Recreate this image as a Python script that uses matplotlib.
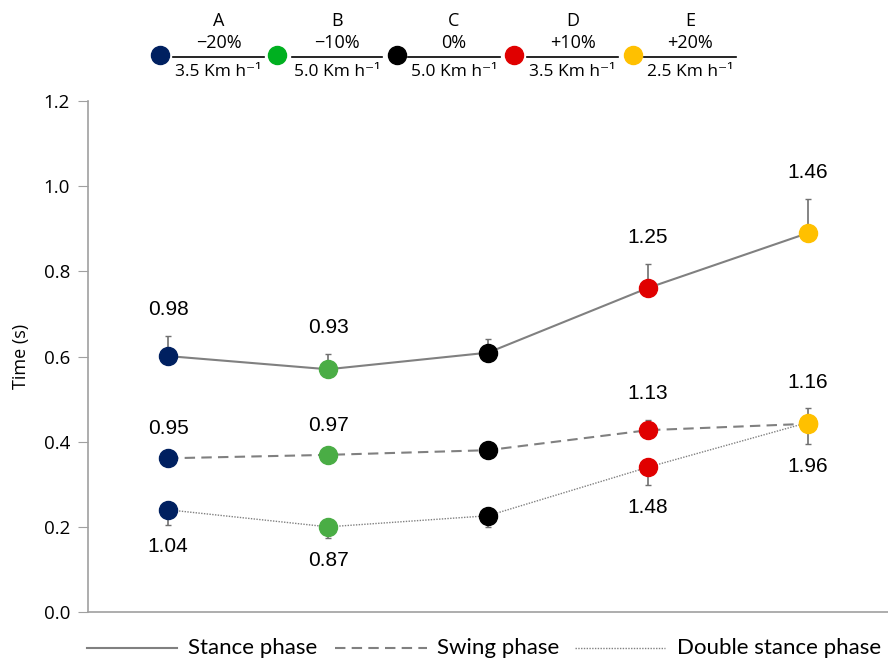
import matplotlib.pyplot as plt
from matplotlib.lines import Line2D
import numpy as np

# conditions A-E (slope / speed)
groups = ["A", "B", "C", "D", "E"]
slopes = ["\u221220%", "\u221210%", "0%", "+10%", "+20%"]
speeds = ["3.5 Km h\u207b\u00b9", "5.0 Km h\u207b\u00b9", "5.0 Km h\u207b\u00b9",
          "3.5 Km h\u207b\u00b9", "2.5 Km h\u207b\u00b9"]
colors = ["#002060", "#4aad45", "#000000", "#e00000", "#ffc000"]
header_colors = ["#002060", "#00b020", "#000000", "#e00000", "#ffc000"]

# mean times (s) and SD
stance = [0.601, 0.570, 0.609, 0.761, 0.890]
stance_sd = [0.048, 0.037, 0.032, 0.056, 0.080]
swing = [0.361, 0.369, 0.380, 0.427, 0.442]
swing_sd = [0.008, 0.008, 0.006, 0.025, 0.036]
double = [0.240, 0.200, 0.226, 0.340, 0.445]
double_sd = [0.035, 0.027, 0.026, 0.042, 0.050]

# ratio labels (C has none)
stance_lab = ["0.98", "0.93", "", "1.25", "1.46"]
swing_lab = ["0.95", "0.97", "", "1.13", "1.16"]
double_lab = ["1.04", "0.87", "", "1.48", "1.96"]

fig = plt.figure(figsize=(8.88, 6.61), dpi=100)
ax = fig.add_axes([88 / 888, 49 / 661, 800 / 888, 511 / 661])

x = np.arange(1, 6)
grey = "#808080"

series = [
    (stance, stance_sd, "-", 1.5, stance_lab, "up"),
    (swing, swing_sd, (0, (5, 3)), 1.5, swing_lab, "up"),
    (double, double_sd, (0, (1, 1)), 1.0, double_lab, "down"),
]

for vals, sd, ls, lw, labs, side in series:
    vals = np.array(vals)
    sd = np.array(sd)
    ax.plot(x, vals, color=grey, linestyle=ls, linewidth=lw, zorder=2)
    if side == "up":
        yerr = [np.zeros_like(sd), sd]
    else:
        yerr = [sd, np.zeros_like(sd)]
    ax.errorbar(x, vals, yerr=yerr, fmt="none", ecolor="#707070",
                elinewidth=1.2, capsize=2.5, capthick=1, zorder=1)
    for i in range(5):
        ax.plot(x[i], vals[i], "o", color=colors[i], markersize=13, zorder=3)
        if labs[i]:
            if side == "up":
                ax.annotate(labs[i], (x[i], vals[i] + sd[i]), xytext=(0, 19),
                            textcoords="offset points", ha="center", va="center",
                            fontsize=15, family="Liberation Sans")
            else:
                ax.annotate(labs[i], (x[i], vals[i] - sd[i]), xytext=(0, -16),
                            textcoords="offset points", ha="center", va="center",
                            fontsize=15, family="Liberation Sans")

ax.set_xlim(0.5, 5.5)
ax.set_ylim(0, 1.2)
ax.set_yticks(np.arange(0, 1.21, 0.2))
ax.set_yticklabels([f"{v:.1f}" for v in np.arange(0, 1.21, 0.2)],
                   fontsize=13.5, family="Open Sans")
ax.set_xticks([])
ax.set_ylabel("Time (s)", fontsize=13, family="Open Sans", labelpad=10)
ax.tick_params(axis="y", direction="out", length=7, color="#a0a0a0", pad=6)
for s in ["top", "right"]:
    ax.spines[s].set_visible(False)
for s in ["left", "bottom"]:
    ax.spines[s].set_color("#a0a0a0")
    ax.spines[s].set_linewidth(1.2)

# header: condition markers with slope/speed fractions
W, H = 888, 661
dot_x = [160, 277, 397, 514, 633]
frac = [(173, 264), (292, 382), (408, 500), (527, 618), (644, 736)]
for i in range(5):
    fig.add_artist(Line2D([dot_x[i] / W], [1 - 55 / H], marker="o",
                          color=header_colors[i], markersize=13,
                          transform=fig.transFigure))
    x0, x1 = frac[i]
    cx = (x0 + x1) / 2 / W
    fig.add_artist(Line2D([x0 / W, x1 / W], [1 - 57 / H, 1 - 57 / H],
                          color="black", linewidth=1.2, transform=fig.transFigure))
    fig.text(cx, 1 - 21 / H, groups[i], ha="center", va="center", fontsize=13,
             family=["Open Sans", "DejaVu Sans"])
    fig.text(cx, 1 - 43 / H, slopes[i], ha="center", va="center", fontsize=13,
             family=["Open Sans", "DejaVu Sans"])
    fig.text(cx, 1 - 72 / H, speeds[i], ha="center", va="center", fontsize=12.5,
             family=["Open Sans", "DejaVu Sans"])

# bottom legend
leg_items = [
    ((87, 177), "-", 1.5, 188, "Stance phase"),
    ((335, 427), (0, (5, 3)), 1.5, 437, "Swing phase"),
    ((575, 665), (0, (1, 1)), 1.0, 677, "Double stance phase"),
]
ly = 1 - 648 / H
for (x0, x1), ls, lw, tx, lab in leg_items:
    fig.add_artist(Line2D([x0 / W, x1 / W], [ly, ly], color=grey, linestyle=ls,
                          linewidth=lw, transform=fig.transFigure))
    fig.text(tx / W, ly, lab, ha="left", va="center", fontsize=16,
             family="Lato")

fig.savefig("out.png", dpi=100)
